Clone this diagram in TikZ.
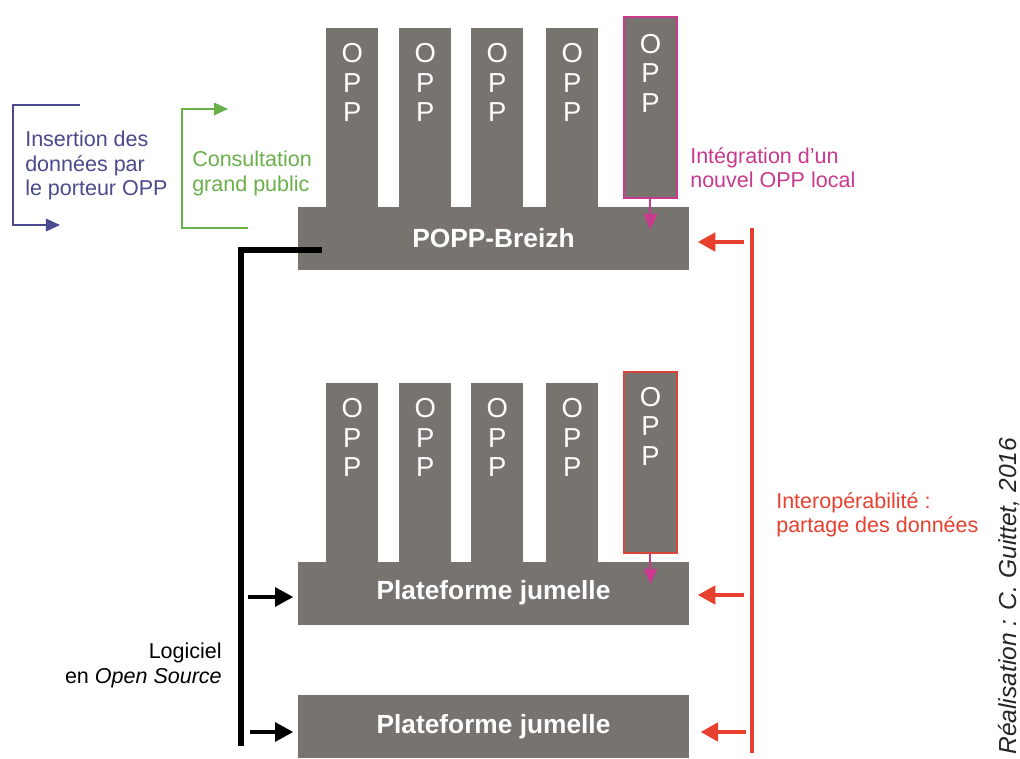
\documentclass[tikz,border=0pt]{standalone}
\usepackage{fontspec}
\setmainfont{Liberation Sans}
\usetikzlibrary{positioning,calc,arrows.meta}

\definecolor{gris}{HTML}{77736F}
\definecolor{rose}{HTML}{C93A8E}
\definecolor{rouge}{HTML}{E8402F}
\definecolor{rougecadre}{HTML}{D9453A}
\definecolor{bleu}{HTML}{4A4A8C}
\definecolor{vert}{HTML}{6AB04A}

\tikzset{
  oppcol/.style={fill=gris, anchor=north west, inner sep=0pt, minimum width=1.3cm, minimum height=4.5cm},
  opptxt/.style={text=white, align=center, inner sep=0pt, font=\fontsize{19.5}{20.8}\selectfont},
  plate/.style={fill=gris, inner sep=0pt, minimum width=9.775cm, minimum height=1.575cm, text=white, font=\bfseries\fontsize{18.7}{22}\selectfont},
  legende/.style={inner sep=0pt, font=\fontsize{15.3}{17.4}\selectfont},
  flrouge/.style={rouge, line width=3pt, -{Triangle[length=12.5pt,width=13pt]}},
  flnoir/.style={black, line width=3.5pt, -{Triangle[length=13pt,width=13pt]}},
  flrose/.style={rose, line width=1.4pt, -{Triangle[length=11pt,width=9.5pt]}},
  crochet/.style={line width=1pt, -{Triangle[length=10pt,width=9pt]}}
}

\begin{document}
\begin{tikzpicture}[x=0.025cm, y=-0.025cm]
  \useasboundingbox[fill=white] (0,0) rectangle (1020,758);

  % Groupe du haut : POPP-Breizh
  \foreach \x [count=\i] in {326,399,471,546} {
    \node[oppcol] (a\i) at (\x,28) {};
    \node[opptxt, below=11pt of a\i.north] (ta\i) {O\\P\\P};
  }
  \node[oppcol, draw=rose, line width=1.3pt, minimum width=1.325cm, minimum height=4.525cm] (a5) at (623,16) {};
  \node[opptxt, below=13pt of a5.north] (ta5) {O\\P\\P};
  \node[plate] (popp) at (493.5,238.5) {POPP-Breizh};
  \draw[flrose] (a5.south) -- ($(a5.south |- popp.north)+(0,23)$);

  % Groupe du milieu : plateforme jumelle
  \begin{scope}[shift={(0,354)}]
    \foreach \x [count=\i] in {326,399,471,546} {
      \node[oppcol] (b\i) at (\x,29) {};
      \node[opptxt, below=11pt of b\i.north] (tb\i) {O\\P\\P};
    }
    \node[oppcol, draw=rougecadre, line width=1.3pt, minimum width=1.325cm, minimum height=4.525cm] (b5) at (623,17) {};
    \node[opptxt, below=11.5pt of b5.north] (tb5) {O\\P\\P};
    \node[plate] (plat1) at (493.5,239) {Plateforme jumelle};
    \draw[flrose] (b5.south) -- ($(b5.south |- plat1.north)+(0,23)$);
  \end{scope}

  % Groupe du bas
  \node[plate] (plat2) at (493.5,726.5) {Plateforme jumelle};

  % Logiciel libre (trait noir)
  \coordinate (lh) at ($(popp.south west)+(24,-20)$);
  \coordinate (lb) at (241,746);
  \draw[black, line width=4pt] (lh) -| (lb);
  \coordinate (n1) at (248,597);
  \coordinate (n2) at (250,732);
  \draw[flnoir, shorten >=3pt] (n1) -- (n1 -| plat1.west);
  \draw[flnoir, shorten >=3pt] (n2) -- (n2 -| plat2.west);
  \node[legende, align=right, anchor=north east] (logi) at (222,643) {Logiciel\\en \textit{Open Source}};

  % Interoperabilite (trait rouge)
  \coordinate (rh) at (752,228);
  \coordinate (rb) at (752,753);
  \draw[rouge, line width=3.3pt] (rh) -- (rb);
  \coordinate (r1) at (744,242);
  \coordinate (r2) at (744,595);
  \coordinate (r3) at (746,732);
  \draw[flrouge, shorten >=6pt] (r1) -- (r1 -| popp.east);
  \draw[flrouge, shorten >=6pt] (r2) -- (r2 -| plat1.east);
  \draw[flrouge, shorten >=8pt] (r3) -- (r3 -| plat2.east);
  \node[legende, text=rouge, align=left, anchor=north west] (interop) at (776,492) {Interopérabilité :\\partage des données};

  % Insertion et consultation
  \node[legende, text=bleu, align=left, anchor=north west] (ins) at (25,131) {Insertion des\\données par\\le porteur OPP};
  \coordinate (bh) at (80,105);
  \coordinate (bb) at (13,225);
  \draw[crochet, bleu] (bh) -| (bb) -- ++(47,0);
  \node[legende, text=vert, align=left, anchor=north west] (cons) at (192,151) {Consultation\\grand public};
  \coordinate (vb) at (248,228);
  \coordinate (vh) at (182,109);
  \draw[crochet, vert] (vb) -| (vh) -- ++(46,0);

  \node[legende, text=rose, align=left, anchor=north west] (integ) at (690,147) {Intégration d’un\\nouvel OPP local};

  % Signature
  \node[rotate=90, anchor=base west, inner sep=0pt, text=black!85, font=\itshape\fontsize{17.5}{20}\selectfont] (real) at (1016,755) {Réalisation : C. Guittet, 2016};
\end{tikzpicture}
\end{document}
